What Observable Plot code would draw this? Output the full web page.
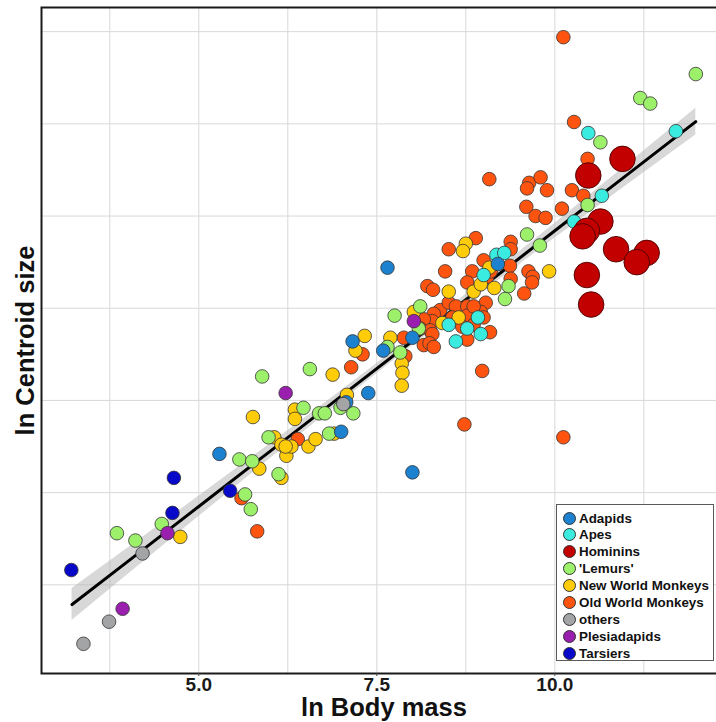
<!DOCTYPE html>
<html>
<head>
<meta charset="utf-8">
<script src="https://cdn.jsdelivr.net/npm/d3@7"></script>
<script src="https://cdn.jsdelivr.net/npm/@observablehq/plot@0.6"></script>
<style>
  html, body { margin: 0; padding: 0; background: #ffffff; overflow: hidden; }
  #wrap { position: relative; width: 716px; height: 722px; overflow: hidden; font-family: "Liberation Sans", Arial, sans-serif; }
  #wrap svg { max-width: none !important; display: block; }
  #legend { position: absolute; left: 556px; top: 504px; width: 158px; height: 157px; border: 1px solid #5a5a5a; background: #ffffff; box-sizing: border-box; }
  .row { position: absolute; left: 6px; height: 16px; display: flex; align-items: center; font-weight: bold; font-size: 13.4px; color: #111; white-space: nowrap; }
  .sw { width: 13px; height: 13px; border-radius: 50%; box-sizing: border-box; border: 1px solid #333; margin-right: 3px; }
</style>
</head>
<body>
<div id="wrap"></div>
<script>
// ---- data: [ln Body mass, ln Centroid size] ----
const groups = ["Adapids", "Apes", "Hominins", "'Lemurs'", "New World Monkeys", "Old World Monkeys", "others", "Plesiadapids", "Tarsiers"];
const groupColors = ["#1c82d0", "#3aece0", "#c20000", "#9cf06a", "#ffcc0a", "#ff5410", "#a2a4a6", "#9a1fae", "#0808c8"];

const adapids = [[5.29,4.21],[7.00,4.33],[7.07,4.49],[7.16,4.82],[7.59,4.77],[7.38,4.54],[7.65,5.22],[8.00,4.11],[8.00,4.84],[9.20,5.24]];
const apes = [[11.70,5.96],[10.47,5.95],[10.66,5.61],[10.27,5.47],[9.18,5.29],[9.29,5.30],[9.00,5.18],[8.92,4.95],[8.51,4.91],[8.77,4.89],[8.96,4.86],[8.61,4.82]];
const hominins = [[10.95,5.81],[10.47,5.72],[10.64,5.47],[10.45,5.42],[10.39,5.39],[10.86,5.32],[11.29,5.30],[11.15,5.25],[10.45,5.18],[10.51,5.02]];
const lemurs = [[3.85,3.78],[4.11,3.74],[4.48,3.83],[5.65,3.99],[5.73,3.91],[5.57,4.18],[5.75,4.17],[5.89,4.63],[5.98,4.30],[6.12,4.10],[6.47,4.46],[6.56,4.67],[6.69,4.43],[6.77,4.43],[6.83,4.32],[6.99,4.46],[7.17,4.43],[7.75,4.96],[7.65,4.79],[7.83,4.76],[8.11,5.01],[8.09,4.89],[9.61,5.40],[9.79,5.34],[9.35,5.12],[9.30,5.05],[10.46,5.56],[10.64,5.90],[11.20,6.14],[11.34,6.11],[11.98,6.27]];
const newWorldMonkeys = [[4.74,3.76],[5.85,4.13],[5.76,4.41],[6.06,4.30],[6.16,4.26],[6.23,4.20],[6.16,4.08],[6.35,4.45],[6.35,4.40],[6.30,4.25],[6.54,4.25],[6.64,4.29],[6.88,4.64],[6.90,4.32],[7.08,4.53],[7.33,4.85],[7.20,4.77],[7.69,4.84],[7.85,4.70],[7.86,4.65],[7.85,4.58],[8.02,4.98],[8.51,5.09],[8.75,5.35],[8.71,5.31],[8.65,4.95],[8.42,4.92],[8.86,5.09],[8.96,5.13],[9.15,5.11],[9.08,5.22],[9.92,5.20],[6.22,4.25]];
const oldWorldMonkeys = [[5.60,3.97],[5.82,3.79],[6.39,4.29],[7.14,4.68],[7.30,4.75],[8.98,4.66],[8.73,4.37],[10.12,4.30],[10.12,6.47],[10.27,6.01],[10.46,5.81],[10.24,5.64],[10.40,5.61],[10.10,5.54],[9.08,5.70],[9.64,5.68],[9.80,5.71],[9.61,5.65],[9.89,5.64],[9.60,5.55],[9.73,5.50],[9.87,5.49],[9.63,5.20],[9.69,5.17],[9.68,5.14],[9.57,5.08],[8.89,5.38],[8.51,5.32],[8.46,5.20],[8.21,5.12],[8.29,5.10],[9.00,5.26],[8.84,5.20],[8.77,5.14],[9.05,5.17],[9.10,5.20],[8.39,4.99],[8.51,5.03],[8.61,5.01],[8.77,5.01],[8.91,5.00],[9.03,5.03],[8.30,4.97],[8.56,4.95],[8.77,4.96],[8.96,4.98],[8.86,4.91],[8.28,4.93],[8.16,4.94],[8.11,4.89],[8.25,4.88],[8.28,4.86],[8.70,4.90],[9.00,4.95],[9.09,4.87],[8.77,4.83],[8.16,4.80],[8.24,4.81],[8.30,4.79],[7.90,4.74],[7.88,4.84],[8.86,5.01],[9.37,5.23],[9.38,5.36],[9.38,5.32],[9.38,5.16]];
const others = [[3.38,3.18],[3.74,3.30],[4.21,3.67],[7.03,4.48]];
const plesiadapids = [[3.93,3.37],[4.56,3.78],[6.22,4.54],[8.02,4.93]];
const tarsiers = [[3.21,3.58],[4.63,3.89],[4.65,4.08],[5.44,4.01]];

// fitted line and 95% band
const fitX  = [3.22, 4, 5, 6, 7, 8, 9, 10, 11, 11.98];
const fitY  = [3.393, 3.626, 3.925, 4.224, 4.523, 4.822, 5.121, 5.420, 5.719, 6.012];
const fitLo = [3.306, 3.554, 3.870, 4.184, 4.493, 4.796, 5.091, 5.380, 5.664, 5.939];
const fitHi = [3.480, 3.698, 3.980, 4.264, 4.553, 4.848, 5.151, 5.460, 5.774, 6.085];

const xTicks = [5.0, 7.5, 10.0];
const xGrid = [3.75, 5.0, 6.25, 7.5, 8.75, 10.0, 11.25];
const yGrid = [3.5, 4.0, 4.5, 5.0, 5.5, 6.0, 6.5];

// ---- build tables ----
const byGroup = {
  "Adapids": adapids, "Apes": apes, "Hominins": hominins, "'Lemurs'": lemurs,
  "New World Monkeys": newWorldMonkeys, "Old World Monkeys": oldWorldMonkeys,
  "others": others, "Plesiadapids": plesiadapids, "Tarsiers": tarsiers
};
const drawOrder = ["Old World Monkeys", "New World Monkeys", "'Lemurs'", "Apes", "Adapids", "others", "Plesiadapids", "Tarsiers"];
const small = drawOrder.flatMap(g => byGroup[g].map(([x, y]) => ({group: g, x, y})));
const big = hominins.map(([x, y]) => ({group: "Hominins", x, y}));
const fit = fitX.map((x, i) => ({x, y: fitY[i], lo: fitLo[i], hi: fitHi[i]}));

const chart = Plot.plot({
  width: 726,
  height: 722,
  marginLeft: 41,
  marginTop: 7,
  marginRight: 0,
  marginBottom: 49,
  style: {background: "#ffffff", fontFamily: "'Liberation Sans', Arial, sans-serif"},
  x: {domain: [2.791, 12.411]},
  y: {domain: [3.019, 6.631]},
  color: {domain: groups, range: groupColors},
  marks: [
    Plot.gridX(xGrid, {stroke: "#d8d8d8", strokeOpacity: 1, strokeWidth: 1}),
    Plot.gridY(yGrid, {stroke: "#d8d8d8", strokeOpacity: 1, strokeWidth: 1}),
    Plot.areaY(fit, {x: "x", y1: "lo", y2: "hi", fill: "#b8b8b8", fillOpacity: 0.55}),
    Plot.line(fit, {x: "x", y: "y", stroke: "#000", strokeWidth: 3}),
    Plot.dot(small, {x: "x", y: "y", r: 6.8, fill: "group", stroke: "#333", strokeWidth: 0.8}),
    Plot.dot(big, {x: "x", y: "y", r: 12.8, fill: "group", stroke: "#4a0000", strokeWidth: 0.9}),
    Plot.frame({stroke: "#1a1a1a", strokeWidth: 2}),
    Plot.axisX(xTicks, {tickSize: 3, tickPadding: 0.5, tickFormat: d3.format(".1f"), fontSize: 19, fontWeight: "bold", fill: "#1a1a1a", stroke: "#444", label: null}),
    Plot.axisY([], {label: null}),
    Plot.text(["ln Body mass"], {frameAnchor: "bottom", lineAnchor: "middle", textAnchor: "middle", dy: 34.5, fontSize: 25.5, fontWeight: "bold", fill: "#111"}),
    Plot.text(["ln Centroid size"], {frameAnchor: "left", lineAnchor: "middle", textAnchor: "middle", dx: -16, rotate: -90, fontSize: 25.5, fontWeight: "bold", fill: "#111"})
  ]
});

const wrap = document.getElementById("wrap");
wrap.appendChild(chart);

// legend (overlaid inside the panel, like the original)
const legend = document.createElement("div");
legend.id = "legend";
groups.forEach((g, i) => {
  const row = document.createElement("div");
  row.className = "row";
  row.style.top = (5 + i * 16.9) + "px";
  const sw = document.createElement("span");
  sw.className = "sw";
  sw.style.background = groupColors[i];
  const t = document.createElement("span");
  t.textContent = g;
  row.appendChild(sw);
  row.appendChild(t);
  legend.appendChild(row);
});
wrap.appendChild(legend);
</script>
</body>
</html>
